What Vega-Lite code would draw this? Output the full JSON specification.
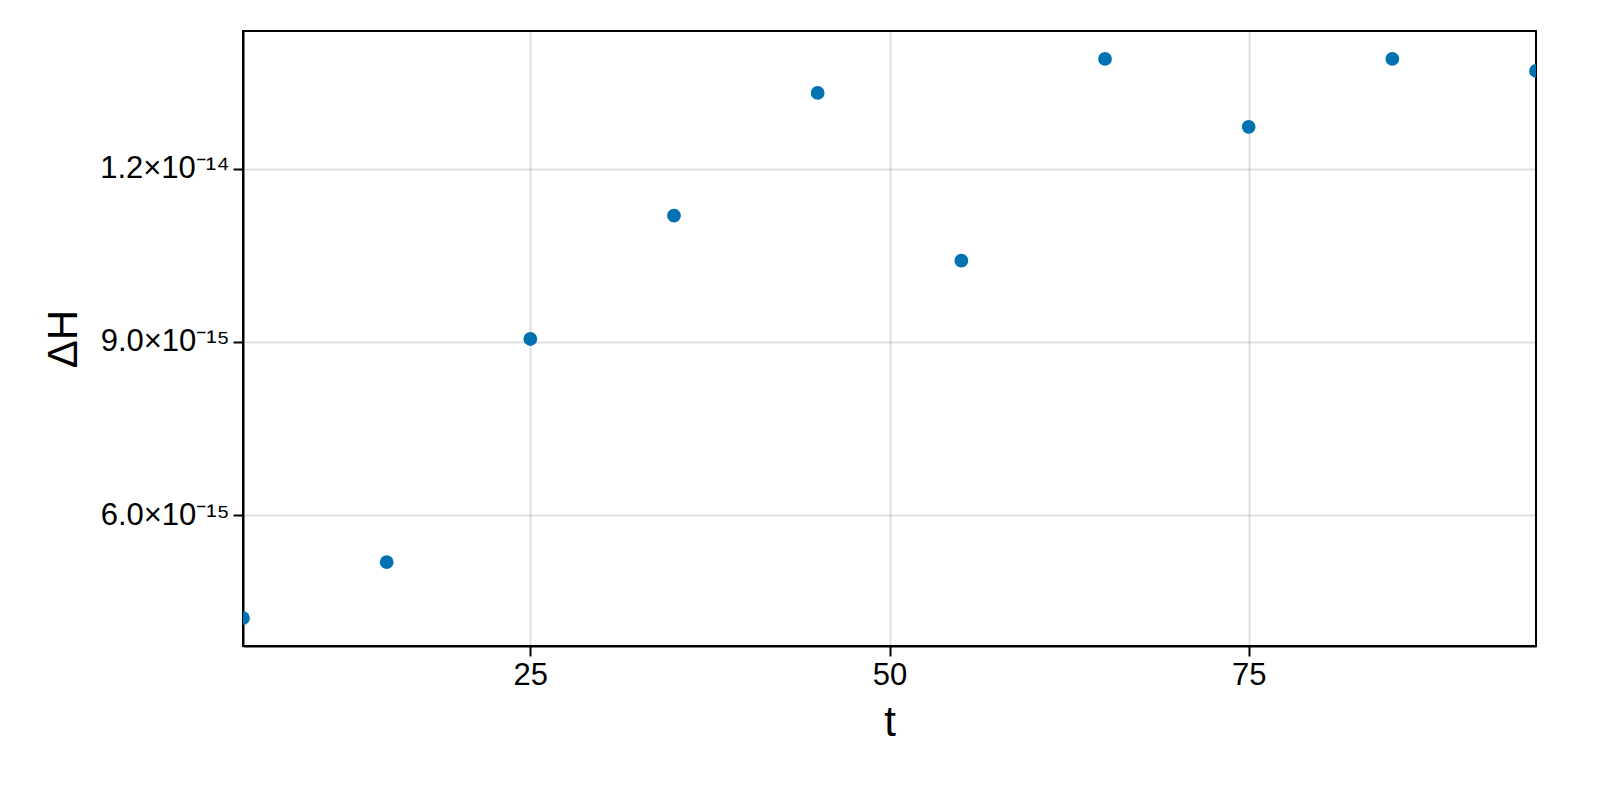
{
  "$schema": "https://vega.github.io/schema/vega-lite/v6.json",
  "width": 1293,
  "height": 615,
  "autosize": {"type": "none"},
  "padding": {"left": 243, "top": 31, "right": 64, "bottom": 154},
  "background": "white",
  "data": {
    "values": [
      {"t": 5, "dH": 4.219e-15},
      {"t": 15, "dH": 5.187e-15},
      {"t": 25, "dH": 9.052e-15},
      {"t": 35, "dH": 11.187e-15},
      {"t": 45, "dH": 13.314e-15},
      {"t": 55, "dH": 10.409e-15},
      {"t": 65, "dH": 13.902e-15},
      {"t": 75, "dH": 12.726e-15},
      {"t": 85, "dH": 13.902e-15},
      {"t": 95, "dH": 13.695e-15}
    ]
  },
  "mark": {"type": "circle", "size": 190, "opacity": 1, "color": "#0072B2", "clip": true},
  "encoding": {
    "x": {
      "field": "t",
      "type": "quantitative",
      "title": "t",
      "scale": {"domain": [5, 95], "nice": false, "zero": false},
      "axis": {"values": [25, 50, 75], "format": "d"}
    },
    "y": {
      "field": "dH",
      "type": "quantitative",
      "title": "ΔH",
      "scale": {"domain": [3.735e-15, 14.386e-15], "nice": false, "zero": false},
      "axis": {
        "values": [6e-15, 9e-15, 1.2e-14],
        "labelExpr": "datum.value < 7e-15 ? '6.0×10⁻¹⁵' : datum.value < 1e-14 ? '9.0×10⁻¹⁵' : '1.2×10⁻¹⁴'"
      }
    }
  },
  "config": {
    "font": "Liberation Sans",
    "view": {"stroke": "black", "strokeWidth": 2},
    "axis": {
      "grid": true,
      "gridColor": "black",
      "gridOpacity": 0.12,
      "gridWidth": 2,
      "domain": true,
      "domainColor": "black",
      "domainWidth": 2,
      "ticks": true,
      "tickColor": "black",
      "tickSize": 10,
      "tickWidth": 2,
      "labelFont": "Liberation Sans",
      "labelFontSize": 31,
      "labelColor": "black",
      "labelPadding": 4,
      "titleFont": "Liberation Sans",
      "titleFontSize": 42,
      "titleFontWeight": "normal",
      "titleColor": "black"
    },
    "axisX": {"titlePadding": 12},
    "axisY": {"titlePadding": 14}
  }
}
